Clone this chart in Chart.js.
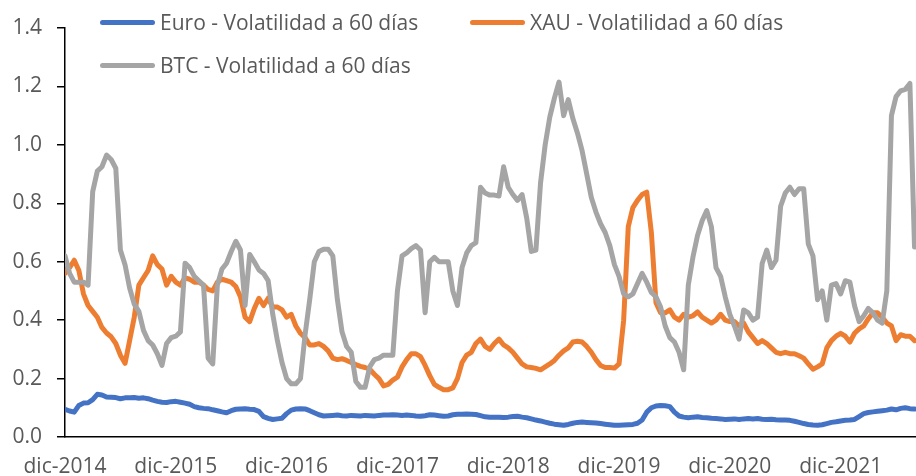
<!DOCTYPE html>
<html lang="es">
<head>
<meta charset="utf-8">
<title>Volatilidad a 60 días</title>
<script src="https://cdn.jsdelivr.net/npm/chart.js@4.4.1/dist/chart.umd.min.js"></script>
<style>
  html, body { margin: 0; padding: 0; background: #ffffff; }
  .chart-wrap { position: relative; width: 916px; height: 476px; overflow: hidden; }
  .legend-item {
    position: absolute;
    display: flex;
    align-items: center;
    height: 28px;
    font-family: 'Open Sans', sans-serif;
    font-size: 21px;
    color: #595959;
    white-space: nowrap;
  }
  .legend-swatch { display: inline-block; width: 55px; height: 5px; border-radius: 3px; margin-right: 5px; }
  #legend0 { left: 100px; top: 8px; }
  #legend1 { left: 470px; top: 8px; }
  #legend2 { left: 100px; top: 51px; }
</style>
</head>
<body>
<div class="chart-wrap">
  <canvas id="volChart"></canvas>
  <div id="legend"></div>
</div>
<script>
(function() {
  'use strict';

  // Axis labels (one per December)
  const yearLabels = ['dic-2014', 'dic-2015', 'dic-2016', 'dic-2017', 'dic-2018', 'dic-2019', 'dic-2020', 'dic-2021'];

  // Readings are taken twice a month, starting dic-2014
  const pointsPerYear = 24;

  const seriesLabels = [
    'Euro - Volatilidad a 60 días',
    'XAU - Volatilidad a 60 días',
    'BTC - Volatilidad a 60 días'
  ];
  const seriesColors = ['#4472C4', '#ED7D31', '#A5A5A5'];

  // Euro volatility
  const euroVol = [
    0.095, 0.089, 0.085, 0.108, 0.116, 0.117, 0.128, 0.146, 0.144, 0.137, 0.136, 0.135,
    0.131, 0.134, 0.134, 0.135, 0.133, 0.134, 0.131, 0.126, 0.122, 0.119, 0.118, 0.121,
    0.122, 0.119, 0.116, 0.112, 0.104, 0.100, 0.098, 0.097, 0.093, 0.090, 0.086, 0.083,
    0.090, 0.095, 0.096, 0.097, 0.095, 0.094, 0.088, 0.070, 0.064, 0.060, 0.062, 0.064,
    0.080, 0.092, 0.096, 0.097, 0.096, 0.090, 0.083, 0.076, 0.072, 0.073, 0.074, 0.075,
    0.073, 0.072, 0.074, 0.073, 0.072, 0.074, 0.073, 0.072, 0.074, 0.075, 0.075, 0.076,
    0.075, 0.074, 0.075, 0.074, 0.072, 0.071, 0.073, 0.076, 0.075, 0.073, 0.071, 0.072,
    0.076, 0.078, 0.078, 0.079, 0.078, 0.077, 0.073, 0.069, 0.068, 0.068, 0.068, 0.067,
    0.068, 0.070, 0.071, 0.068, 0.066, 0.062, 0.058, 0.055, 0.051, 0.047, 0.044, 0.042,
    0.040, 0.043, 0.047, 0.050, 0.051, 0.050, 0.049, 0.048, 0.046, 0.044, 0.042, 0.040,
    0.040, 0.041, 0.042, 0.043, 0.047, 0.058, 0.085, 0.100, 0.106, 0.108, 0.107, 0.104,
    0.085, 0.072, 0.068, 0.066, 0.068, 0.069, 0.067, 0.066, 0.064, 0.063, 0.062, 0.060,
    0.061, 0.062, 0.060, 0.062, 0.063, 0.062, 0.063, 0.061, 0.060, 0.061, 0.059, 0.058,
    0.058, 0.057, 0.054, 0.050, 0.046, 0.043, 0.041, 0.040, 0.042, 0.046, 0.050, 0.052,
    0.055, 0.057, 0.058, 0.060, 0.070, 0.080, 0.084, 0.086, 0.088, 0.090, 0.092, 0.096,
    0.093, 0.098, 0.100, 0.097, 0.096
  ];

  // Gold volatility
  const xauVol = [
    0.56, 0.58, 0.605, 0.57, 0.49, 0.45, 0.43, 0.41, 0.375, 0.356, 0.343, 0.32,
    0.28, 0.252, 0.33, 0.41, 0.52, 0.545, 0.57, 0.62, 0.59, 0.575, 0.52, 0.55,
    0.53, 0.52, 0.545, 0.54, 0.53, 0.53, 0.52, 0.505, 0.5, 0.53, 0.54, 0.535,
    0.53, 0.515, 0.48, 0.41, 0.395, 0.44, 0.475, 0.45, 0.475, 0.445, 0.445, 0.435,
    0.41, 0.42, 0.38, 0.355, 0.34, 0.315, 0.315, 0.32, 0.31, 0.295, 0.27, 0.265,
    0.268, 0.262, 0.255, 0.248, 0.242, 0.238, 0.232, 0.215, 0.2, 0.175, 0.18, 0.195,
    0.205, 0.24, 0.265, 0.285, 0.285, 0.275, 0.245, 0.21, 0.18, 0.17, 0.162, 0.162,
    0.168, 0.2, 0.255, 0.28, 0.29, 0.32, 0.335, 0.31, 0.3, 0.32, 0.335, 0.315,
    0.305, 0.29, 0.27, 0.25, 0.24, 0.238, 0.235, 0.23, 0.24, 0.25, 0.262, 0.28,
    0.295, 0.305, 0.325, 0.328, 0.325, 0.31, 0.29, 0.265, 0.245, 0.238, 0.238, 0.236,
    0.25, 0.40, 0.72, 0.785, 0.81, 0.83, 0.838, 0.70, 0.46, 0.425, 0.425, 0.435,
    0.41, 0.40, 0.42, 0.41, 0.415, 0.428, 0.41, 0.40, 0.39, 0.40, 0.42, 0.40,
    0.395, 0.395, 0.38, 0.39, 0.36, 0.34, 0.32, 0.33, 0.32, 0.305, 0.29, 0.285,
    0.29, 0.285, 0.285, 0.278, 0.27, 0.25, 0.232, 0.24, 0.25, 0.305, 0.33, 0.345,
    0.355, 0.345, 0.325, 0.355, 0.37, 0.38, 0.405, 0.425, 0.425, 0.41, 0.39, 0.38,
    0.33, 0.35, 0.345, 0.345, 0.33
  ];

  // Bitcoin volatility
  const btcVol = [
    0.62, 0.56, 0.53, 0.53, 0.53, 0.52, 0.84, 0.91, 0.925, 0.965, 0.95, 0.92,
    0.64, 0.59, 0.51, 0.455, 0.43, 0.365, 0.33, 0.315, 0.285, 0.245, 0.32, 0.34,
    0.345, 0.36, 0.595, 0.58, 0.55, 0.535, 0.52, 0.27, 0.25, 0.52, 0.575, 0.595,
    0.635, 0.67, 0.64, 0.45, 0.625, 0.6, 0.572, 0.56, 0.535, 0.42, 0.33, 0.255,
    0.2, 0.182, 0.182, 0.2, 0.35, 0.47, 0.6, 0.635, 0.643, 0.643, 0.62, 0.47,
    0.36, 0.31, 0.29, 0.19, 0.17, 0.17, 0.24, 0.265, 0.27, 0.28, 0.28, 0.28,
    0.5, 0.62, 0.63, 0.645, 0.655, 0.64, 0.425, 0.6, 0.615, 0.6, 0.6, 0.6,
    0.5, 0.45, 0.58, 0.63, 0.655, 0.665, 0.855, 0.835, 0.828, 0.828, 0.825, 0.925,
    0.855, 0.83, 0.81, 0.83, 0.75, 0.635, 0.64, 0.87, 1.0, 1.095, 1.16, 1.215,
    1.10, 1.155, 1.09, 1.04, 0.98, 0.9, 0.82, 0.77, 0.73, 0.7, 0.655, 0.59,
    0.55, 0.49, 0.48, 0.49, 0.525, 0.56, 0.53, 0.495, 0.48, 0.445, 0.38, 0.34,
    0.325, 0.29, 0.23, 0.52, 0.615, 0.69, 0.74, 0.775, 0.72, 0.58, 0.55, 0.48,
    0.42, 0.38, 0.335, 0.435, 0.425, 0.4, 0.41, 0.594, 0.64, 0.58, 0.605, 0.79,
    0.835, 0.855, 0.83, 0.85, 0.85, 0.66, 0.62, 0.47, 0.5, 0.4, 0.52, 0.525,
    0.49, 0.535, 0.53, 0.45, 0.395, 0.415, 0.44, 0.425, 0.4, 0.39, 0.5, 1.1,
    1.165, 1.185, 1.19, 1.21, 0.65
  ];

  const yTicks = [0, 0.2, 0.4, 0.6, 0.8, 1.0, 1.2, 1.4];

  const tickFont = { family: "'Open Sans', sans-serif", size: 21 };
  const textColor = '#595959';

  // Turn a value list into {x, y} points (x in years since dic-2014)
  function toPoints(values) {
    return values.map((v, i) => ({ x: i / pointsPerYear, y: v }));
  }

  function makeDataset(index, values, order) {
    return {
      label: seriesLabels[index],
      data: toPoints(values),
      borderColor: seriesColors[index],
      backgroundColor: seriesColors[index],
      borderWidth: 5,
      pointRadius: 0,
      tension: 0,
      fill: false,
      borderJoinStyle: 'round',
      borderCapStyle: 'round',
      order: order
    };
  }

  // Initialize chart
  function init() {
    const ctx = document.getElementById('volChart');

    const chart = new Chart(ctx, {
      type: 'line',
      data: {
        datasets: [
          makeDataset(0, euroVol, 3),
          makeDataset(1, xauVol, 2),
          makeDataset(2, btcVol, 1)
        ]
      },
      options: {
        responsive: true,
        maintainAspectRatio: false,
        animation: false,
        layout: { padding: { top: 28, right: 0, bottom: 0, left: 0 } },
        plugins: {
          legend: { display: false },
          tooltip: { enabled: false }
        },
        scales: {
          x: {
            type: 'linear',
            min: 0,
            max: 7.68,
            grid: { display: false, drawTicks: false },
            border: { display: true, color: '#000000', width: 1.5 },
            afterBuildTicks: function(scale) {
              scale.ticks = yearLabels.map((_, i) => ({ value: i }));
            },
            afterFit: function(scale) {
              scale.height = 39;
            },
            ticks: {
              includeBounds: false,
              autoSkip: false,
              maxRotation: 0,
              minRotation: 0,
              padding: 17,
              color: textColor,
              font: tickFont,
              callback: function(value) {
                return yearLabels[Math.round(value)] || '';
              }
            }
          },
          y: {
            min: 0,
            max: 1.4,
            grid: {
              display: true,
              drawOnChartArea: false,
              drawTicks: true,
              tickLength: 8,
              color: '#000000',
              lineWidth: 1.5
            },
            border: { display: true, color: '#000000', width: 1.5 },
            afterBuildTicks: function(scale) {
              scale.ticks = yTicks.map(v => ({ value: v }));
            },
            afterFit: function(scale) {
              scale.width = 65;
            },
            ticks: {
              padding: 15,
              color: textColor,
              font: tickFont,
              callback: function(value) {
                return Number(value).toFixed(1);
              }
            }
          }
        }
      }
    });

    buildLegend(chart);
  }

  // HTML legend, laid out like the original (two on top, one below)
  function buildLegend(chart) {
    const legend = document.getElementById('legend');
    chart.data.datasets.forEach((ds, i) => {
      const item = document.createElement('div');
      item.className = 'legend-item';
      item.id = 'legend' + i;
      const swatch = document.createElement('span');
      swatch.className = 'legend-swatch';
      swatch.style.background = ds.borderColor;
      const text = document.createElement('span');
      text.textContent = ds.label;
      item.appendChild(swatch);
      item.appendChild(text);
      legend.appendChild(item);
    });
  }

  if (document.readyState === 'loading') {
    document.addEventListener('DOMContentLoaded', init);
  } else {
    init();
  }

})();
</script>
</body>
</html>
